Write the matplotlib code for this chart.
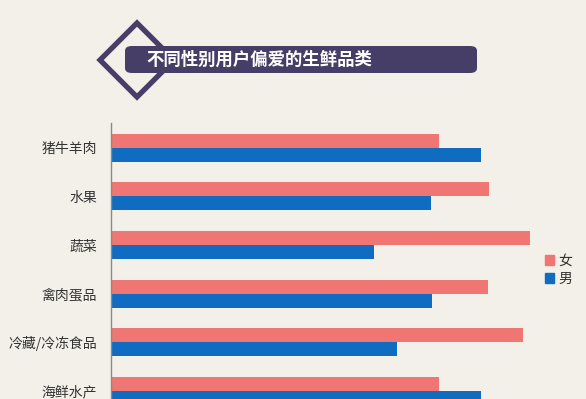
import numpy as np
import matplotlib.pyplot as plt
from matplotlib.patches import FancyBboxPatch, Polygon, Patch

plt.rcParams['font.family'] = ['Noto Sans CJK SC', 'DejaVu Sans']

# Data
categories = ['猪牛羊肉', '水果', '蔬菜', '禽肉蛋品', '冷藏/冷冻食品', '海鲜水产']
female = [32.8, 37.8, 41.9, 37.7, 41.2, 32.8]
male = [37.0, 32.0, 26.3, 32.1, 28.6, 37.0]
series_names = ['女', '男']

bg = '#F3EFE9'
c_female = '#F07673'
c_male = '#0F6CC0'
c_title = '#463E66'

fig = plt.figure(figsize=(5.86, 3.99), dpi=100, facecolor=bg)
W, H = 586, 399

def fx(px):
    return px / W

def fy(py):
    return 1 - py / H

# Axes reaches below the figure edge (chart is cut off in reference)
ax = fig.add_axes([fx(111), fy(420), fx(586 - 111), fy(123) - fy(420)])
ax.set_facecolor(bg)

y = np.arange(len(categories))
h = 0.29
ax.barh(y - h / 2, female, height=h, color=c_female, label=series_names[0])
ax.barh(y + h / 2, male, height=h, color=c_male, label=series_names[1])
ax.set_ylim(len(categories) - 1 + 0.6, -0.51)
ax.set_xlim(0, 47.5)
ax.set_yticks(y)
ax.set_yticklabels(categories, fontsize=10, color='#333333')
ax.tick_params(axis='y', length=0, pad=10)
ax.set_xticks([])
for s in ['top', 'right', 'bottom']:
    ax.spines[s].set_visible(False)
ax.spines['left'].set_color('#8a8a8a')
ax.spines['left'].set_linewidth(1)

# Legend
handles = [Patch(color=c_female), Patch(color=c_male)]
fig.legend(handles, series_names, loc='center left',
           bbox_to_anchor=(fx(532), fy(270)), frameon=False,
           fontsize=10, handlelength=0.7, handleheight=0.7,
           handletextpad=0.3, labelspacing=0.3, labelcolor='#333333')

# Title decoration: diamond outline + rounded band
cx, cy, r = 137, 60, 37
diamond = Polygon([(fx(cx), fy(cy - r)), (fx(cx + r), fy(cy)),
                   (fx(cx), fy(cy + r)), (fx(cx - r), fy(cy))],
                  closed=True, fill=False, edgecolor=c_title, linewidth=3.8,
                  transform=fig.transFigure, joinstyle='miter')
fig.patches.append(diamond)
band = FancyBboxPatch((fx(125), fy(73)), fx(477 - 125), fy(46) - fy(73),
                      boxstyle='round,pad=0,rounding_size=0.012',
                      facecolor=c_title, edgecolor='none',
                      transform=fig.transFigure)
fig.patches.append(band)
fig.text(fx(146), fy(59.5), '不同性别用户偏爱的生鲜品类', color='white',
         fontsize=12.5, fontweight='bold', va='center', ha='left')

fig.savefig('out.png', dpi=100, facecolor=bg)
